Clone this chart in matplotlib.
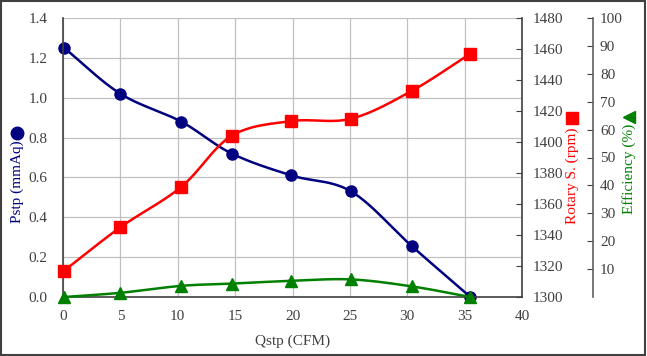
import numpy as np
import matplotlib.pyplot as plt
from matplotlib.lines import Line2D
from matplotlib.patches import Rectangle

plt.rcParams['font.family'] = ['Liberation Serif', 'DejaVu Serif']

qstp = [0.1, 5.0, 10.3, 14.7, 19.9, 25.1, 30.4, 35.5]
pstp = [1.25, 1.02, 0.88, 0.72, 0.61, 0.53, 0.255, 0.0]
rpm = [1317, 1345, 1371, 1404, 1413.5, 1415, 1433, 1457]
eff = [0.0, 1.5, 4.0, 4.8, 5.8, 6.3, 3.8, 0.0]

x_ticks = [0, 5, 10, 15, 20, 25, 30, 35, 40]
p_ticks = [0.0, 0.2, 0.4, 0.6, 0.8, 1.0, 1.2, 1.4]
rpm_ticks = list(range(1300, 1481, 20))
eff_ticks = list(range(10, 101, 10))

navy = '#000080'
red = '#ff0000'
green = '#008000'
tick_col = '#404040'


def smooth(x, y, n=24):
    # catmull-rom through the points, like excel's smoothed line
    x = np.asarray(x, float)
    y = np.asarray(y, float)
    px = np.concatenate([[2 * x[0] - x[1]], x, [2 * x[-1] - x[-2]]])
    py = np.concatenate([[2 * y[0] - y[1]], y, [2 * y[-1] - y[-2]]])
    xs, ys = [], []
    t = np.linspace(0, 1, n)
    for i in range(1, len(px) - 2):
        for p, out in ((px, xs), (py, ys)):
            p0, p1, p2, p3 = p[i - 1], p[i], p[i + 1], p[i + 2]
            out.extend(0.5 * (2 * p1 + (-p0 + p2) * t
                              + (2 * p0 - 5 * p1 + 4 * p2 - p3) * t ** 2
                              + (-p0 + 3 * p1 - 3 * p2 + p3) * t ** 3))
    return xs, ys


fig = plt.figure(figsize=(6.47, 3.56), dpi=100)
ax = fig.add_axes([63 / 647, 1 - 297 / 356, 459 / 647, 279 / 356])
ax2 = ax.twinx()
ax3 = ax.twinx()

ax.set_xlim(0, 40)
ax.set_ylim(0, 1.4)
ax2.set_ylim(1300, 1480)
ax3.set_ylim(0, 100)

ax.set_xticks(x_ticks)
ax.set_yticks(p_ticks)
ax.set_yticklabels(['%.1f' % v for v in p_ticks])
ax2.set_yticks(rpm_ticks)
ax3.set_yticks(eff_ticks)

ax.grid(True, color='#c0c0c0', linewidth=0.9)
ax.set_axisbelow(True)

sx, sy = smooth(qstp, pstp)
ax.plot(sx, sy, color=navy, linewidth=1.8, clip_on=False)
ax.plot(qstp, pstp, 'o', color=navy, markersize=8, clip_on=False)

sx, sy = smooth(qstp, rpm)
ax2.plot(sx, sy, color=red, linewidth=1.8, clip_on=False)
ax2.plot(qstp, rpm, 's', color=red, markersize=8, clip_on=False)

sx, sy = smooth(qstp, eff)
sy = np.maximum(sy, 0)
ax3.plot(sx, sy, color=green, linewidth=1.8, clip_on=False)
ax3.plot(qstp, eff, '^', color=green, markersize=8, clip_on=False)

for a in (ax, ax2, ax3):
    for s in a.spines.values():
        s.set_visible(False)
ax.spines['left'].set_visible(True)
ax.spines['bottom'].set_visible(True)
ax2.spines['right'].set_visible(True)
ax3.spines['right'].set_visible(True)
ax3.spines['right'].set_position(('axes', (593 - 63) / 459))
for s in (ax.spines['left'], ax.spines['bottom'], ax2.spines['right']):
    s.set_color('#404040')
    s.set_linewidth(1.2)
ax3.spines['right'].set_color('#606060')
ax3.spines['right'].set_linewidth(1.2)

ax.tick_params(axis='x', length=0, pad=9, labelsize=11, labelcolor=tick_col)
ax.tick_params(axis='y', direction='in', length=0, pad=11, labelsize=11,
               labelcolor=tick_col)
ax2.tick_params(axis='y', direction='in', length=4, pad=8, labelsize=11,
                labelcolor=tick_col, color='#404040')
ax3.tick_params(axis='y', direction='in', length=4, pad=5, labelsize=11,
                labelcolor=tick_col, color='#404040')

ax.set_xlabel('Qstp (CFM)', fontsize=11, color=tick_col, labelpad=9)

fs = 11
fig.text(17 / 647, 1 - 182 / 356, 'Pstp (mmAq)', rotation=90, color=navy,
         fontsize=fs, ha='center', va='center')
fig.add_artist(Line2D([17 / 647], [1 - 133 / 356], marker='o', color=navy,
                      markersize=9, transform=fig.transFigure))
fig.text(572 / 647, 1 - 176 / 356, 'Rotary S. (rpm)', rotation=90, color=red,
         fontsize=fs, ha='center', va='center')
fig.add_artist(Line2D([572 / 647], [1 - 118 / 356], marker='s', color=red,
                      markersize=9, transform=fig.transFigure))
fig.text(629 / 647, 1 - 169 / 356, 'Efficiency (%)', rotation=90, color=green,
         fontsize=fs, ha='center', va='center')
fig.add_artist(Line2D([629 / 647], [1 - 117 / 356], marker='<', color=green,
                      markersize=9, transform=fig.transFigure))

fig.add_artist(Rectangle((0.001, 0.002), 0.996, 0.995, fill=False,
                         edgecolor='#404040', linewidth=1.5,
                         transform=fig.transFigure))

fig.savefig('out.png', dpi=100)
